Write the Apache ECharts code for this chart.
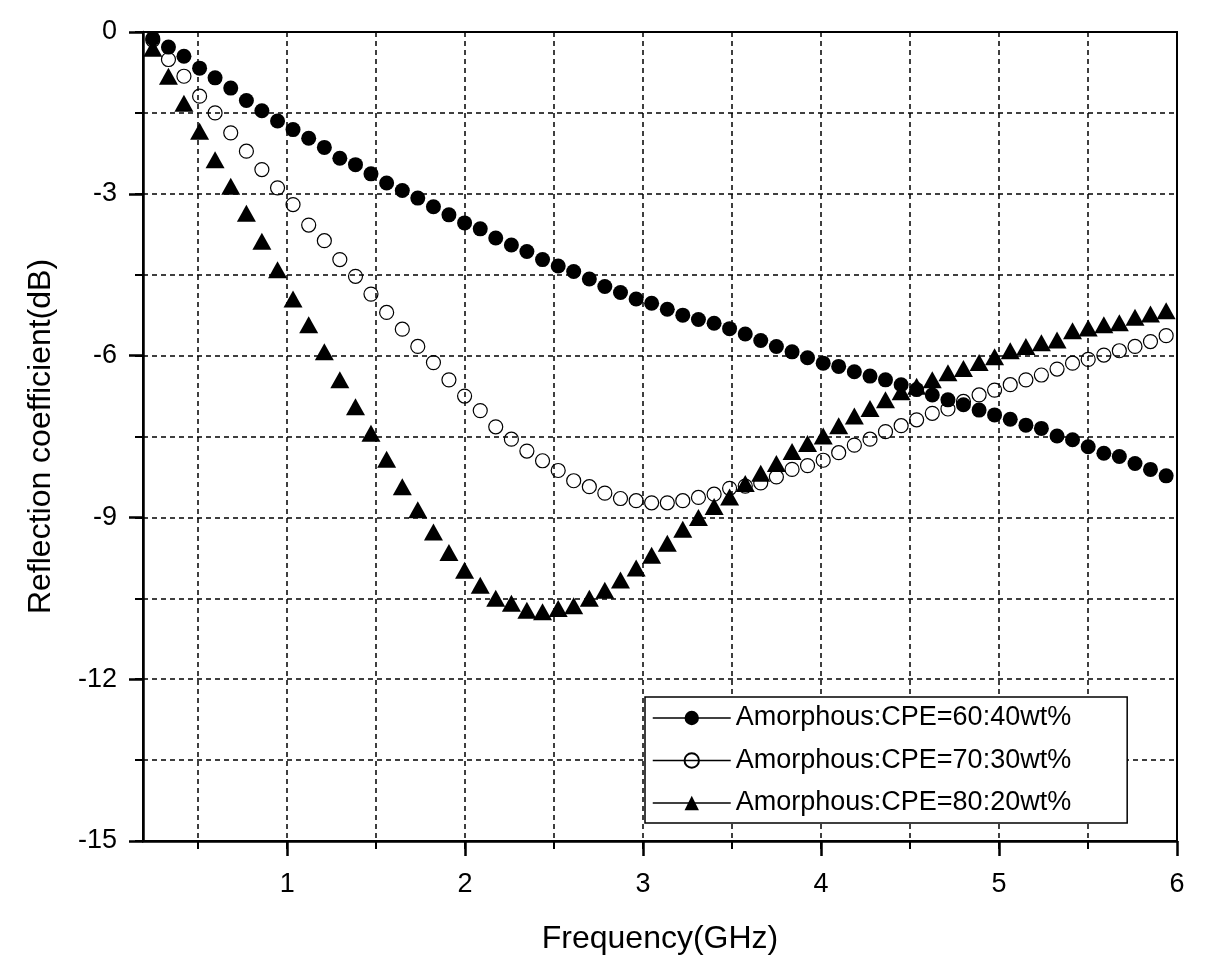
<!DOCTYPE html>
<html>
<head>
<meta charset="utf-8">
<script src="https://cdn.jsdelivr.net/npm/echarts@6/dist/echarts.min.js"></script>
<style>
  html, body { margin: 0; padding: 0; background: #fff; }
  #chart { width: 1207px; height: 966px; }
</style>
</head>
<body>
<div id="chart"></div>
<script>
// Frequency (GHz) of each measured point
const freq = [0.245, 0.333, 0.420, 0.508, 0.595, 0.683, 0.771, 0.858, 0.946, 1.033,
  1.121, 1.209, 1.296, 1.384, 1.471, 1.559, 1.647, 1.734, 1.822, 1.909,
  1.997, 2.085, 2.172, 2.260, 2.347, 2.435, 2.523, 2.610, 2.698, 2.785,
  2.873, 2.961, 3.048, 3.136, 3.223, 3.311, 3.399, 3.486, 3.574, 3.661,
  3.749, 3.837, 3.924, 4.012, 4.099, 4.187, 4.275, 4.362, 4.450, 4.537,
  4.625, 4.713, 4.800, 4.888, 4.975, 5.063, 5.151, 5.238, 5.326, 5.413,
  5.501, 5.589, 5.676, 5.764, 5.851, 5.939];

// Reflection coefficient (dB)
const rc6040 = [-0.12, -0.28, -0.45, -0.67, -0.85, -1.04, -1.27, -1.46, -1.65, -1.81,
  -1.97, -2.14, -2.34, -2.46, -2.63, -2.80, -2.94, -3.08, -3.24, -3.39,
  -3.54, -3.65, -3.82, -3.95, -4.07, -4.22, -4.34, -4.44, -4.58, -4.72,
  -4.83, -4.95, -5.03, -5.14, -5.25, -5.33, -5.40, -5.50, -5.60, -5.72,
  -5.83, -5.93, -6.04, -6.14, -6.20, -6.30, -6.38, -6.45, -6.54, -6.63,
  -6.73, -6.82, -6.91, -7.01, -7.10, -7.18, -7.29, -7.35, -7.49, -7.56,
  -7.69, -7.81, -7.87, -8.00, -8.11, -8.23];

const rc7030 = [-0.15, -0.51, -0.82, -1.19, -1.50, -1.87, -2.21, -2.55, -2.89, -3.20,
  -3.58, -3.87, -4.22, -4.53, -4.86, -5.20, -5.51, -5.83, -6.13, -6.45,
  -6.75, -7.02, -7.32, -7.55, -7.77, -7.95, -8.13, -8.32, -8.43, -8.55,
  -8.65, -8.69, -8.73, -8.73, -8.69, -8.63, -8.57, -8.46, -8.42, -8.36,
  -8.25, -8.11, -8.04, -7.94, -7.80, -7.66, -7.55, -7.41, -7.30, -7.19,
  -7.07, -6.99, -6.85, -6.73, -6.64, -6.54, -6.45, -6.36, -6.25, -6.14,
  -6.07, -5.99, -5.91, -5.83, -5.74, -5.63];

const rc8020 = [-0.30, -0.82, -1.32, -1.84, -2.37, -2.86, -3.36, -3.88, -4.41, -4.95,
  -5.43, -5.93, -6.45, -6.95, -7.44, -7.92, -8.43, -8.86, -9.27, -9.65,
  -9.98, -10.26, -10.50, -10.59, -10.72, -10.75, -10.69, -10.64, -10.50, -10.35,
  -10.16, -9.94, -9.70, -9.48, -9.22, -9.00, -8.80, -8.62, -8.37, -8.18,
  -8.00, -7.78, -7.63, -7.49, -7.30, -7.12, -6.98, -6.82, -6.67, -6.57,
  -6.45, -6.32, -6.24, -6.13, -6.02, -5.91, -5.83, -5.76, -5.71, -5.54,
  -5.49, -5.43, -5.39, -5.29, -5.23, -5.17];

const seriesNames = ['Amorphous:CPE=60:40wt%', 'Amorphous:CPE=70:30wt%', 'Amorphous:CPE=80:20wt%'];

// Axis ticks
const xMajorTicks = [1, 2, 3, 4, 5, 6];
const xGridTicks = [0.5, 1, 1.5, 2, 2.5, 3, 3.5, 4, 4.5, 5, 5.5];

const FONT = "'Liberation Sans', Arial, Helvetica, sans-serif";

function pairs(xs, ys) { return xs.map((x, i) => [x, ys[i]]); }

const chart = echarts.init(document.getElementById('chart'), null, { renderer: 'canvas' });

const black = '#000';
const gridDash = { color: black, width: 1.5, type: [5, 4] };

const option = {
  backgroundColor: '#fff',
  animation: false,
  grid: {
    left: 143, right: 30, top: 32, bottom: 125,
    show: true, borderColor: black, borderWidth: 2, backgroundColor: 'transparent'
  },
  xAxis: [
    {
      type: 'value', min: 0.19, max: 6, position: 'bottom',
      name: 'Frequency(GHz)', nameLocation: 'middle', nameGap: 82,
      nameTextStyle: { fontFamily: FONT, fontSize: 32, color: black },
      axisLine: { show: true, onZero: false, lineStyle: { color: black, width: 2.5 } },
      axisTick: { show: true, inside: false, length: 15, customValues: xMajorTicks, lineStyle: { color: black, width: 2.5 } },
      axisLabel: { show: true, customValues: xMajorTicks, margin: 30, fontFamily: FONT, fontSize: 27, color: black },
      splitLine: { show: false }
    },
    {
      type: 'value', min: 0.19, max: 6, position: 'bottom',
      axisLine: { show: false, onZero: false },
      axisTick: { show: true, inside: false, length: 8, customValues: xGridTicks, lineStyle: { color: black, width: 2 } },
      axisLabel: { show: false, customValues: xGridTicks },
      splitLine: { show: true, lineStyle: gridDash }
    }
  ],
  yAxis: [
    {
      type: 'value', min: -15, max: 0, interval: 3, position: 'left',
      name: 'Reflection coefficient(dB)', nameLocation: 'middle', nameGap: 86, nameRotate: 90,
      nameTextStyle: { fontFamily: FONT, fontSize: 32, color: black },
      axisLine: { show: true, onZero: false, lineStyle: { color: black, width: 2.5 } },
      axisTick: { show: true, inside: false, length: 14, lineStyle: { color: black, width: 2.5 } },
      axisLabel: { show: true, margin: 26, fontFamily: FONT, fontSize: 27, color: black },
      splitLine: { show: false }
    },
    {
      type: 'value', min: -15, max: 0, interval: 1.5, position: 'left',
      axisLine: { show: false, onZero: false },
      axisTick: { show: true, inside: false, length: 8, lineStyle: { color: black, width: 2 } },
      axisLabel: { show: false },
      splitLine: { show: true, lineStyle: gridDash }
    }
  ],
  legend: {
    orient: 'vertical', left: 645, top: 697,
    padding: [7, 56, 6, 7],
    itemWidth: 78, itemHeight: 18, itemGap: 14.5,
    backgroundColor: '#fff', borderColor: black, borderWidth: 1.5, borderRadius: 0,
    textStyle: { fontFamily: FONT, fontSize: 27, lineHeight: 28, color: black },
    lineStyle: { color: black, width: 1.5, opacity: 1 },
    selectedMode: false,
    data: seriesNames
  },
  series: [
    {
      name: seriesNames[0], type: 'line', xAxisIndex: 0, yAxisIndex: 0, z: 5,
      data: pairs(freq, rc6040),
      symbol: 'circle', symbolSize: 15, showAllSymbol: true,
      lineStyle: { color: black, width: 1, opacity: 0 },
      itemStyle: { color: black, borderWidth: 0 },
      emphasis: { disabled: true }
    },
    {
      name: seriesNames[1], type: 'line', xAxisIndex: 0, yAxisIndex: 0, z: 3,
      data: pairs(freq, rc7030),
      symbol: 'circle', symbolSize: 14, showAllSymbol: true,
      lineStyle: { color: black, width: 1, opacity: 0 },
      itemStyle: { color: 'rgba(255,255,255,0)', borderColor: black, borderWidth: 1.2 },
      emphasis: { disabled: true }
    },
    {
      name: seriesNames[2], type: 'line', xAxisIndex: 0, yAxisIndex: 0, z: 4,
      data: pairs(freq, rc8020),
      symbol: 'triangle', symbolSize: [19, 17], showAllSymbol: true,
      lineStyle: { color: black, width: 1, opacity: 0 },
      itemStyle: { color: black, borderWidth: 0 },
      emphasis: { disabled: true }
    }
  ]
};

chart.setOption(option);
</script>
</body>
</html>
